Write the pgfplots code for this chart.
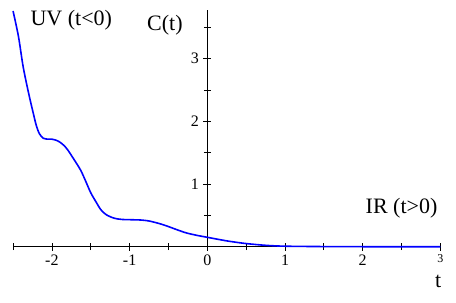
\documentclass[border=0pt]{standalone}
\usepackage{fontspec}
\setmainfont{Liberation Serif}
\usepackage{pgfplots}
\pgfplotsset{compat=1.18}
\usetikzlibrary{calc}

\begin{document}
\begin{tikzpicture}
\begin{axis}[
  x=77.7bp, y=62.7bp,
  axis lines=middle,
  axis line style={-, black, line width=0.8bp},
  xmin=-2.5, xmax=3, ymin=0, ymax=3.77,
  xtick={-2,-1,0,1,2},
  extra x ticks={3},
  extra x tick labels={3},
  extra x tick style={tick label style={font=\rmfamily\fontsize{12bp}{12bp}\selectfont, yshift=1bp}},
  ytick={1,2,3},
  minor xtick={-2.5,-1.5,-0.5,0.5,1.5,2.5},
  minor ytick={0.5,1.5,2.5,3.5},
  hide obscured x ticks=false,
  tick align=center,
  major tick length=8bp, minor tick length=7bp,
  tick style={black, line width=0.8bp},
  tick label style={font=\rmfamily\fontsize{16bp}{16bp}\selectfont},
  /pgf/number format/assume math mode=true,
  xticklabel style={yshift=-1bp},
  yticklabel style={xshift=-1bp},
  clip=false,
]
  \coordinate (O) at (axis cs:0,0);
  \addplot[blue, line width=1.6bp, smooth] coordinates {
    (-2.50,3.76) (-2.43,3.35) (-2.37,2.87) (-2.30,2.45) (-2.24,2.13)
    (-2.20,1.93) (-2.16,1.80) (-2.11,1.73) (-2.05,1.715) (-2.00,1.715)
    (-1.95,1.70) (-1.90,1.67) (-1.85,1.62) (-1.80,1.55) (-1.72,1.40)
    (-1.63,1.22) (-1.56,1.03) (-1.50,0.86) (-1.43,0.71) (-1.37,0.59)
    (-1.30,0.51) (-1.20,0.455) (-1.10,0.435) (-0.97,0.43) (-0.85,0.425)
    (-0.75,0.41) (-0.62,0.37) (-0.52,0.33) (-0.40,0.275) (-0.27,0.22)
    (-0.13,0.18) (0,0.15) (0.15,0.115) (0.29,0.085) (0.5,0.05)
    (0.75,0.022) (1.0,0.008) (1.5,0.002) (2,0) (3,0)
  };
  \node[font=\rmfamily\fontsize{22bp}{22bp}\selectfont] at (axis cs:-1.75,3.62) {UV (t<0)};
  \node[font=\rmfamily\fontsize{22bp}{22bp}\selectfont] at (axis cs:-0.545,3.54) {C(t)};
  \node[font=\rmfamily\fontsize{22bp}{22bp}\selectfont] at (axis cs:2.5,0.62) {IR (t>0)};
  \node[font=\rmfamily\fontsize{22bp}{22bp}\selectfont] at (axis cs:2.97,-0.55) {t};
\end{axis}
\pgfresetboundingbox
\path[use as bounding box] ($(O)+(-207.3bp,-56.3bp)$) rectangle ++(456bp,303bp);
\end{tikzpicture}
\end{document}
